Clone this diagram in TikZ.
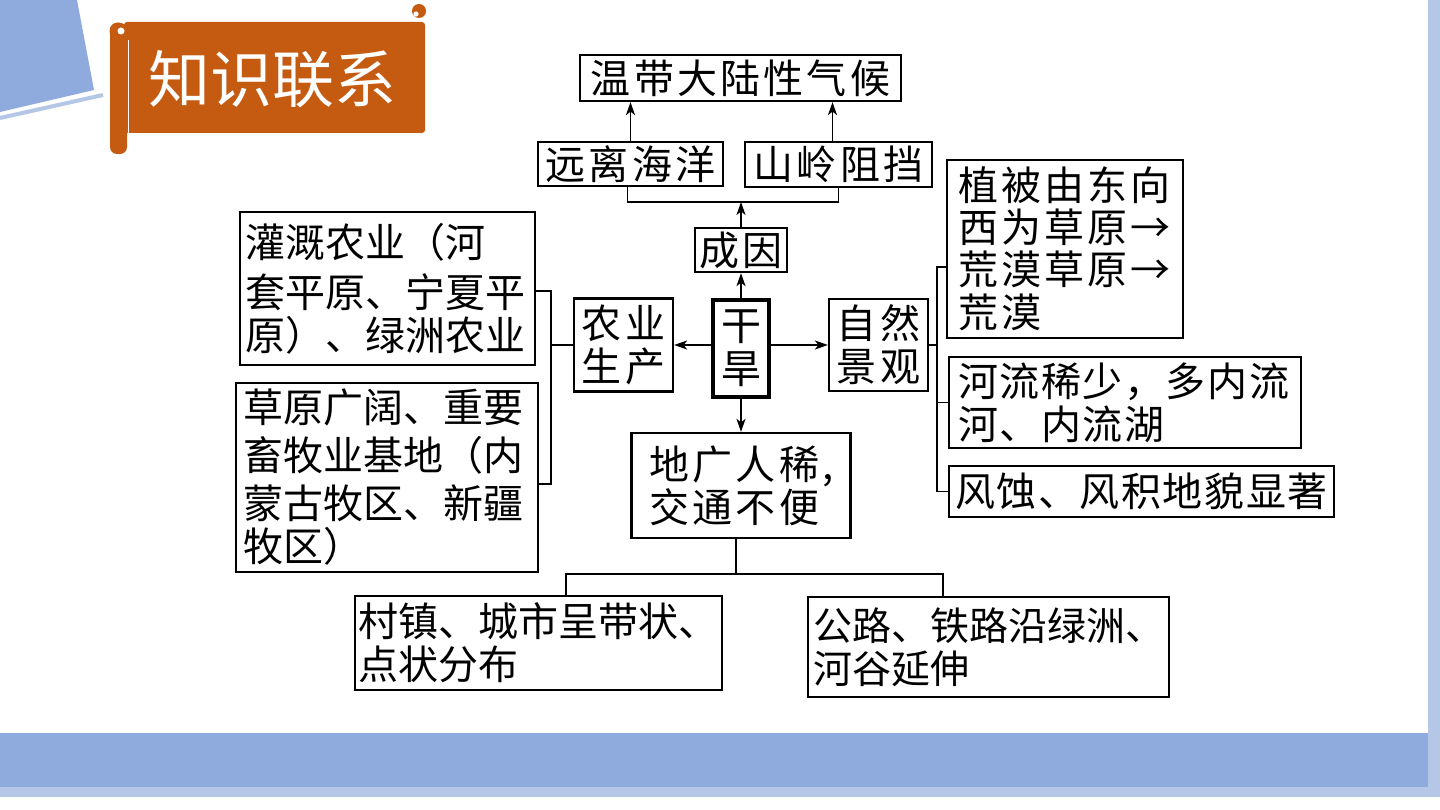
\documentclass[tikz,border=0pt]{standalone}
\usepackage{fontspec}
\newfontfamily\cjk{Noto Sans CJK SC}
\newfontfamily\cjkw[LetterSpace=8]{Noto Sans CJK SC}
\newfontfamily\cjkm[LetterSpace=4]{Noto Sans CJK SC}
\usetikzlibrary{arrows.meta}
\definecolor{bandblue}{HTML}{8FAADC}
\definecolor{lightblue}{HTML}{B4C7E7}
\definecolor{scroll}{HTML}{C55A11}
\newcommand\fsz[2]{\fontsize{#1}{#2}\selectfont}
\begin{document}
\begin{tikzpicture}[x=1pt,y=-1pt,
  bx/.style={draw, line width=2.2pt, inner ysep=0pt, font=\cjk\fsz{40}{43}},
  ln/.style={line width=1.9pt},
  arr/.style={line width=1.9pt, -{Stealth[length=13pt,width=9pt,inset=3.5pt]}}]
\useasboundingbox (0,0) rectangle (1440,810);
\fill[white] (0,0) rectangle (1440,810);
% decorative background
\fill[bandblue] (0,0) -- (77,0) -- (94,90) -- (0,112) -- cycle;
\draw[lightblue, line width=4pt] (0,118) -- (103,95);
\fill[bandblue] (0,733) rectangle (1430,787);
\fill[lightblue] (0,787) rectangle (1440,797);
\fill[lightblue] (1428,0) rectangle (1440,797);
% scroll banner
\fill[scroll, rounded corners=7pt] (110,23) rectangle (127,154);
\fill[scroll, rounded corners=3pt] (124,22) rectangle (425,133);
\fill[scroll] (118,31) circle (8.5);
\fill[white] (121,31) circle (3.5);
\draw[white, line width=0.8pt] (128,40) -- (128,133);
\fill[scroll] (419,11) circle (7);
\fill[white] (416,14) circle (2.6);
\node[font=\cjk\fsz{62}{62}, text=white, inner sep=0pt] (title) at (272,79) {知识联系};
% boxes
\node[bx, minimum height=46pt, inner xsep=8pt, text width=305pt, align=center] (clim) at (740.5,78) {\cjkw 温带大陆性气候};
\node[bx, minimum height=44pt, inner xsep=6pt, text width=173pt, align=center] (far) at (630.5,164) {\cjkw 远离海洋};
\node[bx, minimum height=45pt, inner xsep=6pt, text width=175pt, align=center] (mtn) at (838.5,164.5) {\cjkw 山岭阻挡};
\node[bx, minimum height=44pt, inner xsep=4pt, text width=84pt, align=center] (cause) at (741,250) {\cjkw 成因};
\node[bx, line width=4.5pt, minimum height=97pt, inner xsep=4pt, text width=48pt, align=center] (drought) at (741,348.5) {\fsz{40}{44}干\\旱};
\node[bx, minimum height=93pt, inner xsep=4pt, text width=91pt, align=center] (agri) at (623.5,345) {\cjkw\fsz{40}{44}农业\\生产};
\node[bx, minimum height=92pt, inner xsep=4pt, text width=91pt, align=center] (nat) at (878.5,345) {\cjkw\fsz{40}{44}自然\\景观};
\node[bx, minimum height=105pt, inner xsep=18pt, text width=183pt, align=left] (sparse) at (741,485.5) {\cjkw\fsz{40}{45}地广人稀,\\交通不便};
\node[bx, minimum height=94pt, inner xsep=3.5pt, text width=360pt, align=left] (town) at (538.5,643) {\fsz{40}{47}村镇、城市呈带状、\\点状分布};
\node[bx, minimum height=100pt, inner xsep=5pt, text width=351pt, align=left] (road) at (988.5,647) {\fsz{39}{47}公路、铁路沿绿洲、\\河谷延伸};
\node[bx, minimum height=153pt, inner xsep=5pt, text width=285pt, align=left] (irr) at (387.5,288.5) {\fsz{40}{50}灌溉农业（河\\套平原、宁夏平\\原）、绿洲农业};
\node[bx, minimum height=189pt, inner xsep=7pt, text width=288pt, align=left] (grass) at (387,477.5) {\fsz{40}{48}草原广阔、重要\\畜牧业基地（内\\蒙古牧区、新疆\\牧区）};
\node[bx, minimum height=178pt, inner xsep=11pt, text width=214pt, align=left] (veg) at (1065,249) {\cjkw\fsz{40}{42}植被由东向\\西为草原→\\荒漠草原→\\荒漠};
\node[bx, minimum height=91pt, inner xsep=9pt, text width=334pt, align=left] (river) at (1125,402.5) {\cjkm\fsz{40}{43}河流稀少，多内流\\河、内流湖};
\node[bx, minimum height=51pt, inner xsep=6pt, text width=373pt, align=left] (wind) at (1141.5,491.5) {\cjkm 风蚀、风积地貌显著};
% junction coordinates
\coordinate (tj) at (741,202);
\coordinate (lb) at (551,345);
\coordinate (rb) at (937,345);
\coordinate (bj) at (741,574);
% connectors
\draw[arr] (far.north) -- (far.north |- clim.south);
\draw[arr] ([xshift=-6pt]mtn.north) -- ([xshift=-6pt]mtn.north |- clim.south);
\draw[ln] ([xshift=-3pt]far.south) |- (tj) -| (mtn.south);
\draw[arr] (cause.north) -- (tj);
\draw[arr] (drought.north) -- (cause.south);
\draw[arr] (drought.west |- agri.east) -- (agri.east);
\draw[arr] (drought.east |- nat.west) -- (nat.west);
\draw[arr] (drought.south) -- (sparse.north);
\draw[ln] (agri.west) -- (lb);
\draw[ln] ([yshift=-2.5pt]irr.east) -| (lb) |- ([yshift=-6.5pt]grass.east);
\draw[ln] (nat.east) -- (rb);
\draw[ln] ([yshift=-18pt]veg.west) -| (rb) |- (wind.west);
\draw[ln] (river.west) -- (river.west -| rb);
\draw[ln] ([xshift=-5pt]sparse.south) -- ([xshift=-5pt]bj);
\draw[ln] ([xshift=27.5pt]town.north) |- (bj) -| ([xshift=-45.5pt]road.north);
\end{tikzpicture}
\end{document}
